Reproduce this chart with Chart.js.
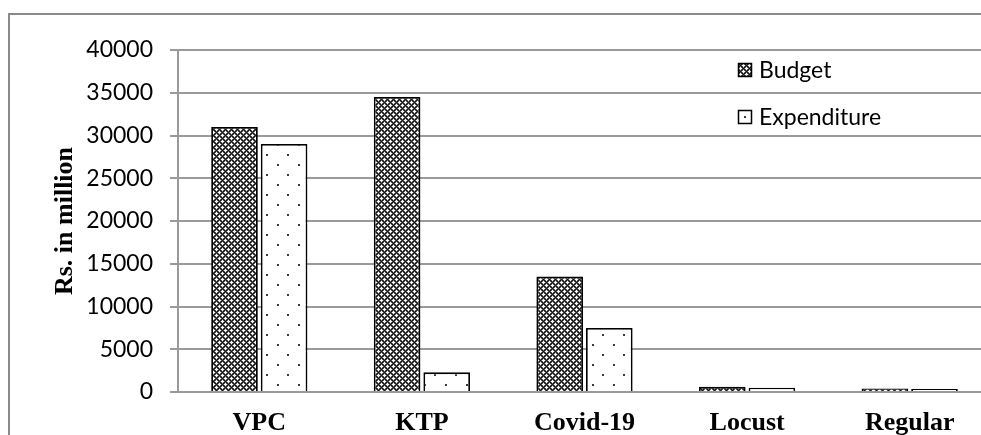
<!DOCTYPE html>
<html>
<head>
<meta charset="utf-8">
<script src="https://cdn.jsdelivr.net/npm/chart.js@4.4.1/dist/chart.umd.min.js"></script>
<style>
  html, body { margin: 0; padding: 0; background: #fff; overflow: hidden; width: 981px; height: 435px; }
  #frame { position: absolute; left: 8px; top: 13px; width: 1200px; height: 600px; border: 2px solid #8a8a8a; box-sizing: border-box; }
  #wrap { position: absolute; left: 0; top: 0; width: 1000px; height: 460px; }
</style>
</head>
<body>
<div id="frame"></div>
<div id="wrap"><canvas id="chart" width="1000" height="460"></canvas></div>
<script>
// Programme budgets vs. actual expenditure (Rs. in million)
const categories = ['VPC', 'KTP', 'Covid-19', 'Locust', 'Regular'];
const budget = [31000, 34500, 13500, 600, 400];
const expenditure = [29000, 2300, 7500, 500, 350];
const yTicks = [0, 5000, 10000, 15000, 20000, 25000, 30000, 35000, 40000];

// Cross-hatch fill for the budget bars: dark diagonal lattice around white diamonds
function hatchPattern() {
  const n = 6;
  const c = document.createElement('canvas');
  c.width = n; c.height = n;
  const g = c.getContext('2d');
  g.fillStyle = '#ffffff';
  g.fillRect(0, 0, n, n);
  for (let x = 0; x < n; x++) {
    for (let y = 0; y < n; y++) {
      const a = (x + y) % n, b = (x - y + n) % n;
      if (a === 0 || b === 0) { g.fillStyle = '#141414'; g.fillRect(x, y, 1, 1); }
      else if (a === 1 || b === 1 || a === 5 || b === 5) { g.fillStyle = '#5a5a5a'; g.fillRect(x, y, 1, 1); }
    }
  }
  return g.createPattern(c, 'repeat');
}

// Sparse dotted fill for the expenditure bars
function dotPattern() {
  const c = document.createElement('canvas');
  c.width = 21; c.height = 20;
  const g = c.getContext('2d');
  g.fillStyle = '#ffffff';
  g.fillRect(0, 0, 21, 20);
  g.fillStyle = '#3a3a3a';
  g.fillRect(4, 4, 2, 2);
  g.fillRect(14, 14, 2, 2);
  return g.createPattern(c, 'repeat');
}

// Vertical legend drawn inside the plot area, upper right
const boxLegend = {
  id: 'boxLegend',
  afterDatasetsDraw(chart) {
    const { ctx, chartArea } = chart;
    const x0 = chartArea.right - 253;
    let y = chartArea.top + 20;
    ctx.save();
    chart.data.datasets.forEach(ds => {
      ctx.save();
      // shift the fill so the pattern sits centred in the swatch
      ctx.translate(x0 + 2, y - 5);
      ctx.fillStyle = ds.backgroundColor;
      ctx.fillRect(-2, -2, 14, 14);
      ctx.restore();
      ctx.strokeStyle = '#000';
      ctx.lineWidth = 1.5;
      ctx.strokeRect(x0 + 0.5, y - 6.5, 13, 13);
      ctx.fillStyle = '#000';
      ctx.font = '23px Lato, "Open Sans", sans-serif';
      ctx.textBaseline = 'middle';
      ctx.textAlign = 'left';
      ctx.fillText(ds.label, x0 + 21, y + 1);
      y += 47;
    });
    ctx.restore();
  }
};

new Chart(document.getElementById('chart'), {
  type: 'bar',
  data: {
    labels: categories,
    datasets: [
      { label: 'Budget', data: budget, backgroundColor: hatchPattern(), borderColor: '#000', borderWidth: 1.8 },
      { label: 'Expenditure', data: expenditure, backgroundColor: dotPattern(), borderColor: '#000', borderWidth: 1.8 }
    ]
  },
  options: {
    responsive: false,
    animation: false,
    events: [],
    categoryPercentage: 0.61,
    barPercentage: 0.94,
    layout: { padding: { left: 0, right: 9, top: 50, bottom: 0 } },
    plugins: { legend: { display: false }, tooltip: { enabled: false } },
    scales: {
      x: {
        grid: { display: false, drawTicks: false },
        border: { display: false },
        ticks: {
          color: '#000',
          padding: 16,
          font: { family: '"Liberation Serif", "Times New Roman", serif', size: 26, weight: 'bold' }
        },
        afterFit(scale) { scale.height = 68; }
      },
      y: {
        min: 0,
        max: 40000,
        afterBuildTicks(scale) { scale.ticks = yTicks.map(v => ({ value: v })); },
        grid: { color: '#9a9a9a', lineWidth: 2, tickLength: 8 },
        border: { color: '#9a9a9a', width: 2 },
        ticks: {
          color: '#000',
          padding: 17,
          font: { family: 'Lato, "Open Sans", sans-serif', size: 23 },
          callback: v => String(v)
        },
        title: {
          display: true,
          text: 'Rs. in million',
          color: '#000',
          padding: { top: 50, bottom: 0 },
          font: { family: '"Liberation Serif", "Times New Roman", serif', size: 26, weight: 'bold' }
        },
        afterFit(scale) { scale.width = 178; }
      }
    }
  },
  plugins: [boxLegend]
});
</script>
</body>
</html>
